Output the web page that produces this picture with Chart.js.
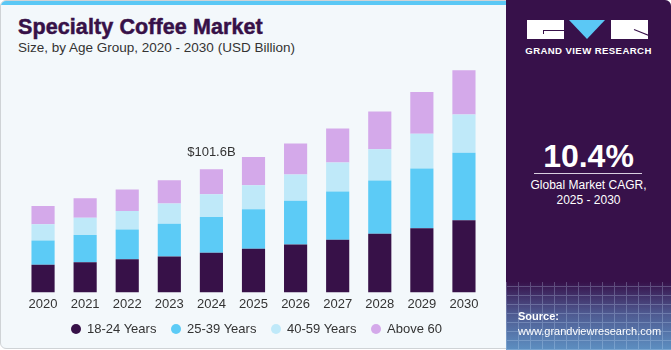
<!DOCTYPE html>
<html>
<head>
<meta charset="utf-8">
<script src="https://cdn.jsdelivr.net/npm/chart.js@4"></script>
<style>
  html, body { margin: 0; padding: 0; }
  body { width: 671px; height: 350px; position: relative; overflow: hidden; background: #fff;
         font-family: "Liberation Sans", Arial, sans-serif; }
  .card { position: absolute; left: 0; top: 0; width: 669px; height: 347px; background: #f3f8fb;
          border: 1px solid #cfd3d6; border-radius: 6px; overflow: hidden; }
  .topline { position: absolute; left: 0; top: 0; width: 510px; height: 4px; background: #5bc8f5; }
  .title { position: absolute; left: 17px; top: 14px; font-size: 21.5px; font-weight: bold; color: #371148;
           letter-spacing: 0.1px; -webkit-text-stroke: 0.5px #371148; }
  .subtitle { position: absolute; left: 17px; top: 39px; font-size: 13.5px; color: #333; }
  .chartbox { position: absolute; left: 0; top: 42px; width: 500px; height: 280px; }
  .legend { position: absolute; top: 320px; left: 0; height: 16px; font-size: 13px; color: #333; }
  .legend span { position: absolute; white-space: nowrap; line-height: 16px; }
  .legend i { position: absolute; width: 10px; height: 10px; border-radius: 50%; top: 3px; }
  .panel { position: absolute; left: 506px; top: 0; width: 165px; height: 350px; background: #37114a;
           border-top-right-radius: 6px; overflow: hidden; }
  .grid { position: absolute; left: 0; top: 282px; width: 165px; height: 68px;
          background: linear-gradient(180deg, rgba(55,17,74,1) 0%, rgba(80,95,150,0.9) 45%, rgba(95,150,200,0.95) 100%); }
  .gridlines { position: absolute; left: 0; top: 282px; width: 165px; height: 68px; opacity: 0.25;
          background-image: repeating-linear-gradient(90deg, #cfe6ff 0 1px, transparent 1px 12px),
                            repeating-linear-gradient(0deg, #cfe6ff 0 1px, transparent 1px 9px); }
  .logo-l { position: absolute; left: 21px; top: 20px; width: 37px; height: 19px; background: #fff; }
  .logo-l:after { content: ""; position: absolute; left: 16px; top: 10px; width: 21px; height: 1px; background: #37114a; }
  .logo-l:before { content: ""; position: absolute; left: 16px; top: 10px; width: 1px; height: 4px; background: #37114a; }
  .logo-t { position: absolute; left: 63px; top: 20px; width: 0; height: 0;
            border-left: 18.5px solid transparent; border-right: 18.5px solid transparent; border-top: 19px solid #5bc8f5; }
  .logo-r { position: absolute; left: 105px; top: 20px; width: 37px; height: 19px; background: #fff; overflow: hidden; }
  .logo-r:after { content: ""; position: absolute; left: 23px; top: 9px; width: 16px; height: 1px; background: #37114a; transform: rotate(22deg); transform-origin: left; }
  .gvr { position: absolute; left: 0; width: 165px; top: 45px; text-align: center; color: #fff; font-size: 9.6px; font-weight: bold; letter-spacing: 0.4px; }
  .cagr { position: absolute; left: 0; width: 165px; top: 138px; text-align: center; color: #fff; font-size: 32px; font-weight: bold; }
  .rule { position: absolute; left: 28px; width: 108px; top: 173px; height: 1px; background: #d9cfe0; }
  .cagr-t { position: absolute; left: 0; width: 165px; top: 178px; text-align: center; color: #fff; font-size: 12px; line-height: 14.5px; }
  .src { position: absolute; left: 12px; top: 309px; color: #fff; font-size: 11px; line-height: 14.5px; }
</style>
</head>
<body>
<div class="card">
  <div class="topline"></div>
  <div class="title">Specialty Coffee Market</div>
  <div class="subtitle">Size, by Age Group, 2020 - 2030 (USD Billion)</div>
  <div class="chartbox"><canvas id="coffeeChart"></canvas></div>
  <div class="legend" id="legend"></div>
</div>
<div class="panel">
  <div class="grid"></div>
  <div class="gridlines"></div>
  <div class="logo-l"></div>
  <div class="logo-t"></div>
  <div class="logo-r"></div>
  <div class="gvr">GRAND VIEW RESEARCH</div>
  <div class="cagr">10.4%</div>
  <div class="rule"></div>
  <div class="cagr-t">Global Market CAGR,<br>2025 - 2030</div>
  <div class="src"><b>Source:</b><br>www.grandviewresearch.com</div>
</div>

<script>
"use strict";

// Дані (USD Billion)
const years = ['2020', '2021', '2022', '2023', '2024', '2025', '2026', '2027', '2028', '2029', '2030'];
const age18to24 = [22.9, 24.8, 27.3, 29.7, 32.8, 36.1, 39.6, 43.4, 48.3, 53.0, 59.6];
const age25to39 = [19.9, 22.5, 24.6, 27.0, 29.5, 32.5, 36.1, 39.9, 44.0, 49.2, 55.7];
const age40to59 = [13.4, 14.2, 15.3, 16.7, 18.6, 19.9, 21.6, 23.8, 25.9, 28.7, 31.4];
const above60   = [15.0, 16.1, 17.8, 19.1, 20.7, 23.2, 25.6, 28.1, 31.1, 34.4, 36.6];
const seriesNames = ['18-24 Years', '25-39 Years', '40-59 Years', 'Above 60'];
const seriesColors = ['#371148', '#5ccbf6', '#bfe9f9', '#d4a9ea'];
const highlightYear = '2024';
const highlightLabel = '$101.6B';

const TEXT_FONT = '"Liberation Sans", Arial, sans-serif';

// Підпис над стовпцем 2024
const totalLabelPlugin = {
    id: 'totalLabel',
    afterDatasetsDraw(chart) {
        const idx = years.indexOf(highlightYear);
        const top = chart.getDatasetMeta(chart.data.datasets.length - 1).data[idx];
        const ctx = chart.ctx;
        ctx.save();
        ctx.font = '13px ' + TEXT_FONT;
        ctx.fillStyle = '#333';
        ctx.textAlign = 'center';
        ctx.textBaseline = 'bottom';
        ctx.fillText(highlightLabel, top.x, top.y - 10);
        ctx.restore();
    }
};

const seriesData = [age18to24, age25to39, age40to59, above60];

new Chart(document.getElementById('coffeeChart'), {
    type: 'bar',
    data: {
        labels: years,
        datasets: seriesData.map((d, i) => ({
            label: seriesNames[i],
            data: d,
            backgroundColor: seriesColors[i],
            borderWidth: 0,
            barPercentage: 0.55,
            categoryPercentage: 1.0
        }))
    },
    options: {
        responsive: true,
        maintainAspectRatio: false,
        animation: false,
        layout: { padding: { left: 21, right: 16, top: 7, bottom: 7 } },
        scales: {
            x: {
                stacked: true,
                grid: { display: false, drawTicks: false },
                border: { display: false },
                ticks: { color: '#333', font: { family: TEXT_FONT, size: 13 }, padding: 4 }
            },
            y: {
                stacked: true,
                display: false,
                min: 0,
                max: 200
            }
        },
        plugins: {
            legend: { display: false },
            tooltip: { enabled: false }
        }
    },
    plugins: [totalLabelPlugin]
});

// HTML-легенда
const legendPos = [70, 170, 270, 370];
const legendEl = document.getElementById('legend');
seriesNames.forEach((name, i) => {
    const s = document.createElement('span');
    s.style.left = legendPos[i] + 'px';
    s.innerHTML = '<i style="background:' + seriesColors[i] + ';left:0"></i><span style="left:16px;position:relative">' + name + '</span>';
    legendEl.appendChild(s);
});
</script>
</body>
</html>
